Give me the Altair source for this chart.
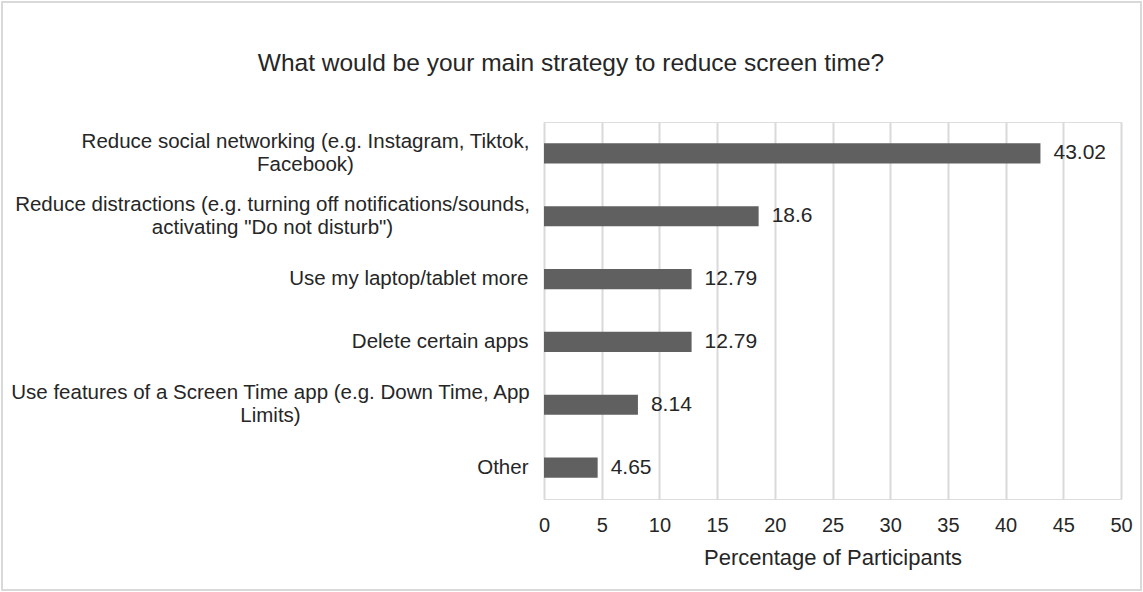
import altair as alt
import pandas as pd

categories = [
    "Reduce social networking (e.g. Instagram, Tiktok,\nFacebook)",
    "Reduce distractions (e.g. turning off notifications/sounds,\nactivating \"Do not disturb\")",
    "Use my laptop/tablet more",
    "Delete certain apps",
    "Use features of a Screen Time app (e.g. Down Time, App\nLimits)",
    "Other",
]
values = [43.02, 18.6, 12.79, 12.79, 8.14, 4.65]
x_ticks = [0, 5, 10, 15, 20, 25, 30, 35, 40, 45, 50]

df = pd.DataFrame({
    "category": categories,
    "value": values,
    "label": [f"{v:g}" for v in values],
})

FONT = "Liberation Sans"
TEXT = "#262626"
W, H = 577, 377
PL, PT = 544, 122
LFS = 20.5

multi = "indexof(datum.value, '\\n') >= 0"

y_enc = alt.Y(
    "category:N",
    sort=categories,
    scale=alt.Scale(paddingInner=0.68, paddingOuter=0.34),
    axis=alt.Axis(
        title=None,
        labelExpr="split(datum.label, '\\n')",
        labelFont=FONT,
        labelFontSize=LFS,
        labelColor=TEXT,
        labelLineHeight=23,
        labelAlign={"condition": {"test": multi, "value": "center"}, "value": "right"},
        labelOffset={"condition": {"test": multi, "value": -11.5}, "value": 0},
        labelPadding={
            "condition": [
                {"test": "indexof(datum.value, 'Reduce social') == 0", "value": 239},
                {"test": "indexof(datum.value, 'Reduce distractions') == 0", "value": 272},
                {"test": "indexof(datum.value, 'Use features') == 0", "value": 274},
            ],
            "value": 16,
        },
        labelLimit=600,
        domain=False,
        ticks=False,
        grid=False,
    ),
)

x_enc = alt.X(
    "value:Q",
    scale=alt.Scale(domain=[0, 50], nice=False),
    axis=alt.Axis(
        title="Percentage of Participants",
        values=x_ticks,
        format="d",
        labelFont=FONT,
        labelFontSize=20,
        labelColor=TEXT,
        labelPadding=16,
        labelBaseline="top",
        labelFlush=False,
        titleFont=FONT,
        titleFontSize=22,
        titleFontWeight="normal",
        titleColor=TEXT,
        titleBaseline="alphabetic",
        titleY=65,
        domain=False,
        ticks=False,
        grid=True,
        gridColor="#d9d9d9",
        gridWidth=2,
    ),
)

bars = alt.Chart(df).mark_bar(color="#606060").encode(x=x_enc, y=y_enc)

texts = alt.Chart(df).mark_text(
    align="left", baseline="middle", dx=13, font=FONT, fontSize=21, color=TEXT
).encode(
    x=alt.X("value:Q"),
    y=alt.Y("category:N", sort=categories),
    text="label:N",
)

border = alt.Chart(alt.Data(values=[{}])).mark_rect(
    fill=None, fillOpacity=0, stroke="#d9d9d9", strokeWidth=2
).encode(
    x=alt.value(2 - PL),
    x2=alt.value(1141 - PL),
    y=alt.value(2 - PT),
    y2=alt.value(590 - PT),
)

chart = alt.layer(bars, texts, border).properties(
    width=W,
    height=H,
    title=alt.TitleParams(
        text="What would be your main strategy to reduce screen time?",
        font=FONT,
        fontSize=24.5,
        fontWeight="normal",
        color=TEXT,
        anchor="middle",
        baseline="alphabetic",
        offset=-94,
        dx=571 - (PL + W / 2),
    ),
    autosize=alt.AutoSizeParams(type="none"),
    padding={"left": PL, "top": PT, "right": 1143 - PL - W, "bottom": 592 - PT - H},
).configure_view(stroke=None).configure(background="white")

chart.save("out.html", embed_options={"renderer": "svg", "actions": False})
